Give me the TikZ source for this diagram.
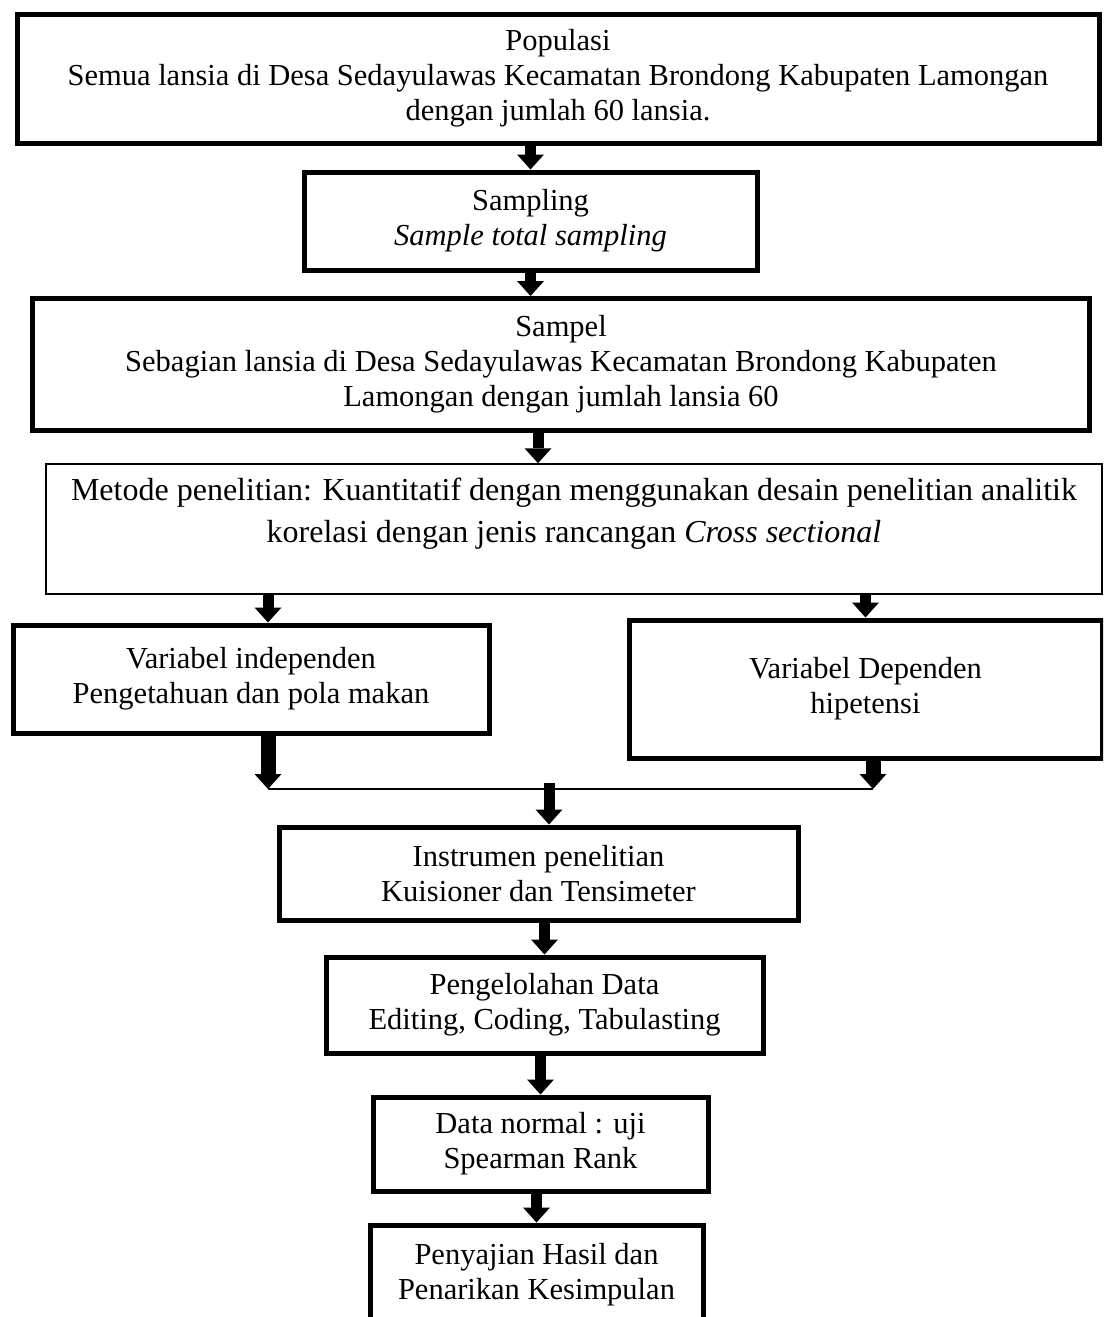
\documentclass[tikz,border=0pt]{standalone}
\usepackage{fontspec}
\setmainfont{Liberation Serif}
\usetikzlibrary{arrows.meta}

\tikzset{
  flowbox/.style={draw, line width=5pt, align=center, inner sep=0pt,
    font=\fontsize{30.5}{35}\selectfont},
  thinbox/.style={flowbox, line width=1.5pt, font=\fontsize{32}{42}\selectfont},
  arr/.style={line width=11pt, -{Triangle[width=27pt,length=15pt,line width=0pt]}},
  bigarr/.style={arr, line width=15pt},
  joinline/.style={line width=1.5pt}
}

\begin{document}
\begin{tikzpicture}[x=1pt,y=-1pt]
\useasboundingbox (0,0) rectangle (1103,1317);
\clip (0,0) rectangle (1103,1317);

% kotak-kotak alur
\node[flowbox, minimum width=1082pt, minimum height=129pt] (populasi) at (558,78.5)
  {Populasi\\Semua lansia di Desa Sedayulawas Kecamatan Brondong Kabupaten Lamongan\\dengan jumlah 60 lansia.};
\node[flowbox, minimum width=453pt, minimum height=98pt] (sampling) at (530.5,221)
  {Sampling\\\textit{Sample total sampling}};
\node[flowbox, minimum width=1057pt, minimum height=132pt] (sampel) at (561,364.5)
  {Sampel\\Sebagian lansia di Desa Sedayulawas Kecamatan Brondong Kabupaten\\Lamongan dengan jumlah lansia 60};
\node[thinbox, minimum width=1056pt, minimum height=130pt, text depth=37pt] (metode) at (574,529)
  {Metode penelitian: Kuantitatif dengan menggunakan desain penelitian analitik\\korelasi dengan jenis rancangan \textit{Cross sectional}};
\node[flowbox, minimum width=476pt, minimum height=108pt] (indep) at (251,679)
  {Variabel independen\\Pengetahuan dan pola makan};
\node[flowbox, minimum width=473pt, minimum height=138pt] (dep) at (865.5,689)
  {Variabel Dependen\\hipetensi};
\node[flowbox, minimum width=519pt, minimum height=93pt] (instrumen) at (538.5,873.5)
  {Instrumen penelitian\\Kuisioner dan Tensimeter};
\node[flowbox, minimum width=437pt, minimum height=96pt] (olah) at (544.5,1005)
  {Pengelolahan Data\\Editing, Coding, Tabulasting};
\node[flowbox, minimum width=335pt, minimum height=94pt] (uji) at (540.5,1144)
  {Data normal : uji\\Spearman Rank};
\node[flowbox, minimum width=333pt, minimum height=100pt] (hasil) at (536.5,1275)
  {Penyajian Hasil dan\\Penarikan Kesimpulan};

% panah
\draw[arr] (populasi.south -| sampling.north) -- (sampling.north);
\draw[arr] (sampling.south) -- (sampel.north -| sampling.south);
\coordinate (c1) at ([xshift=-23pt]sampel.south);
\draw[arr] (c1) -- (c1 |- metode.north);
\coordinate (c2) at ([xshift=17pt]indep.north);
\draw[arr] (metode.south -| c2) -- (c2);
\draw[arr] (metode.south -| dep.north) -- (dep.north);

% gabungan variabel
\coordinate (merge) at (549,789);
\draw[bigarr] ([xshift=17pt]indep.south) coordinate (il) -- (il |- merge);
\draw[bigarr] ([xshift=7.5pt]dep.south) coordinate (dr) -- (dr |- merge);
\draw[joinline] (il |- merge) -- (dr |- merge);
\draw[arr] ([yshift=6pt]merge) -- (merge |- instrumen.north);

\draw[arr] (instrumen.south -| olah.north) -- (olah.north);
\draw[arr] (olah.south -| uji.north) -- (uji.north);
\draw[arr] (uji.south -| hasil.north) -- (hasil.north);
\end{tikzpicture}
\end{document}
